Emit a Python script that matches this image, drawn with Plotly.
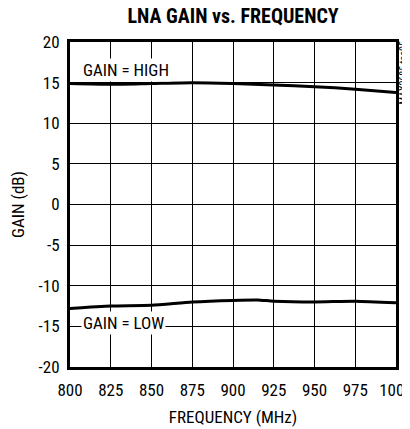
import plotly.graph_objects as go

freq = [800, 825, 850, 875, 900, 925, 950, 975, 1000]
gain_high = [14.9, 14.8, 14.9, 15.0, 14.9, 14.7, 14.5, 14.2, 13.8]
freq_low = [800, 825, 850, 875, 900, 915, 925, 950, 975, 1000]
gain_low = [-12.8, -12.5, -12.4, -12.0, -11.8, -11.75, -11.9, -12.0, -11.9, -12.1]
x_ticks = [800, 825, 850, 875, 900, 925, 950, 975, 1000]
y_ticks = [-20, -15, -10, -5, 0, 5, 10, 15, 20]

FONT = "Liberation Sans Narrow, Arial Narrow, Roboto Condensed, Liberation Sans, sans-serif"

fig = go.Figure()
fig.add_trace(go.Scatter(x=freq, y=gain_high, mode="lines", line=dict(color="black", width=3, shape="spline", smoothing=0.6), showlegend=False))
fig.add_trace(go.Scatter(x=freq_low, y=gain_low, mode="lines", line=dict(color="black", width=3, shape="spline", smoothing=0.6), showlegend=False))

# page body has an 8px margin, so the figure is sized/offset to compensate
fig.update_layout(
    width=402, height=421,
    margin=dict(l=62, r=14, t=34, b=62, autoexpand=False),
    paper_bgcolor="white", plot_bgcolor="white",
    font=dict(family=FONT, size=17, color="black"),
    title=dict(text="<b>LNA GAIN vs. FREQUENCY</b>", x=0.56, xanchor="center", y=0.981, yanchor="middle",
               font=dict(family=FONT, size=20, color="black")),
)
fig.update_xaxes(range=[800, 1000], tickvals=x_ticks, ticktext=[str(v) for v in x_ticks],
                 showgrid=True, gridcolor="black", gridwidth=1, zeroline=False,
                 showline=True, linecolor="black", linewidth=3, mirror=True, ticks="",
                 automargin=False, ticklabeloverflow="allow", ticklabelstandoff=6,
                 title=dict(text="FREQUENCY (MHz)", font=dict(size=17), standoff=12),
                 tickfont=dict(size=17))
fig.update_yaxes(range=[-20, 20], tickvals=y_ticks, ticktext=[str(v) for v in y_ticks],
                 showgrid=True, gridcolor="black", gridwidth=1, zeroline=False,
                 showline=True, linecolor="black", linewidth=3, mirror=True, ticks="",
                 automargin=False, ticklabelstandoff=4,
                 title=dict(text="GAIN (dB)", font=dict(size=17), standoff=12),
                 tickfont=dict(size=17))

fig.add_annotation(x=807, y=16.6, text="GAIN = HIGH", showarrow=False, xanchor="left", yanchor="middle",
                   bgcolor="white", font=dict(size=17), borderpad=1)
fig.add_annotation(x=807, y=-14.6, text="GAIN = LOW", showarrow=False, xanchor="left", yanchor="middle",
                   bgcolor="white", font=dict(size=17), borderpad=1)
fig.add_annotation(x=1, y=1, xref="paper", yref="paper", xshift=7, yshift=2, text="MAX2685 toc05", showarrow=False,
                   textangle=-90, xanchor="center", yanchor="top", font=dict(size=10, color="black"))

fig.write_html("out.html")
